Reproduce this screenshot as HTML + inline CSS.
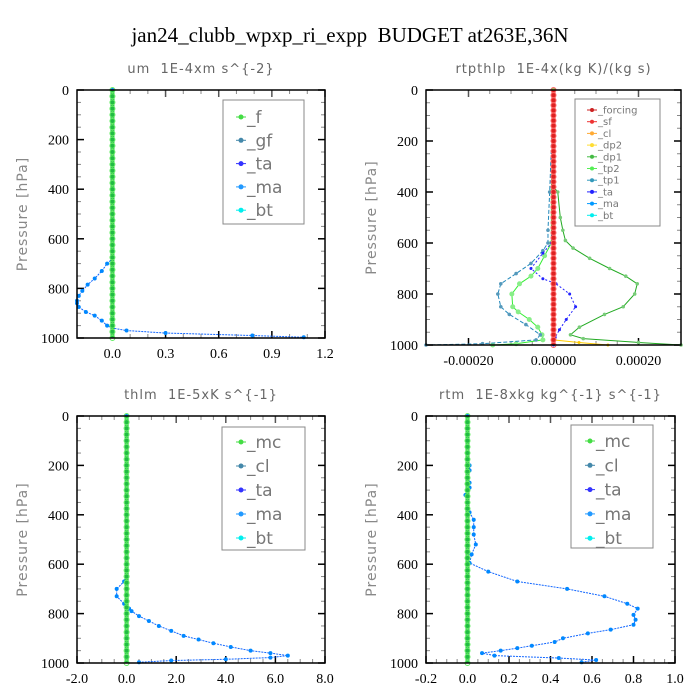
<!DOCTYPE html>
<html><head><meta charset="utf-8"><style>
body{margin:0;background:#fff;width:700px;height:700px;overflow:hidden}
svg{display:block}
text{white-space:pre}
.tk{font-family:"Liberation Serif",serif;font-size:14px;fill:#000}
.pt{font-family:"DejaVu Sans","Liberation Sans",sans-serif;font-size:13px;fill:#666;letter-spacing:1px}
.yl{font-family:"DejaVu Sans","Liberation Sans",sans-serif;font-size:14px;fill:#888;letter-spacing:1px}
.lg{font-family:"DejaVu Sans","Liberation Sans",sans-serif;fill:#777}
</style></head><body>
<svg id="chart" width="700" height="700" xmlns="http://www.w3.org/2000/svg">
<text x="350" y="42" text-anchor="middle" font-family="Liberation Serif,serif" font-size="21">jan24_clubb_wpxp_ri_expp  BUDGET at263E,36N</text>
</svg>
<script>
// ---- data ----
const presTicks=[0,200,400,600,800,1000];
const um_xticks=[0.0,0.3,0.6,0.9,1.2];
const um_xlabels=["0.0","0.3","0.6","0.9","1.2"];
const um_p=[0,40,80,120,160,200,240,280,320,360,400,440,480,520,560,600,640,680,700,730,760,785,810,830,850,860,875,895,910,930,950,960,970,980,990,997];
const um_ta=[0,0,0,0,0,0,0,0,0,0,0,0,0,0,0,0,0,0,-0.03,-0.06,-0.1,-0.14,-0.17,-0.19,-0.2,-0.2,-0.19,-0.15,-0.1,-0.06,-0.03,0.0,0.08,0.3,0.79,1.08];

const rt_xticks=[-0.0002,0,0.0002];
const rt_xlabels=["-0.00020","0.00000","0.00020"];
const rt_p_dp1=[0,380,400,500,550,590,620,660,700,730,760,800,850,880,930,960,975,990,1000];
const rt_dp1=[0,0,1,1.6,2.2,2.8,4.6,8.5,13.2,17,19.7,19.1,16.4,12,6.1,4.0,7,20,30];
const rt_p_tp2=[0,400,600,650,700,730,760,800,850,870,900,930,960,980,995,1000];
const rt_tp2=[0,-0.5,-0.5,-2.1,-3.7,-5.3,-8,-9.8,-9.6,-8.3,-5.7,-3.7,-2.7,-2.5,-8.8,-14.3];
const rt_p_tp1=[0,400,550,600,630,680,720,760,800,850,880,920,960,980,995,1000];
const rt_tp1=[0,-0.9,-1.3,-1.3,-2.5,-5.3,-8.8,-12.4,-13.1,-12.4,-10.4,-6.5,-3.1,-4.1,-16.7,-30];
const rt_p_ta=[0,400,600,640,700,740,760,800,850,900,940,970,1000];
const rt_ta=[0,0,-0.5,-2.5,-5.3,-2.5,0.6,3.8,5.2,3,1.4,0.4,0];
const rt_p_dp2=[0,980,990,1000];
const rt_dp2=[0,0,6,12.8];

const th_xticks=[-2,0,2,4,6,8];
const th_xlabels=["-2.0","0.0","2.0","4.0","6.0","8.0"];
const th_p=[0,100,200,300,400,500,600,640,670,700,730,760,780,790,810,830,850,870,890,905,920,935,950,960,970,978,985,990,997];
const th_ta=[0,0,0,0,0,0,0,0,-0.1,-0.4,-0.4,-0.1,0.1,0.2,0.5,0.9,1.3,1.8,2.3,2.9,3.5,4.2,5.0,5.8,6.5,5.8,4.0,1.8,0.5];

const r_xticks=[-0.2,0,0.2,0.4,0.6,0.8,1.0];
const r_xlabels=["-0.2","0.0","0.2","0.4","0.6","0.8","1.0"];
const r_p=[0,100,180,200,220,250,270,290,320,350,390,420,450,480,520,560,595,630,670,700,730,760,780,805,825,845,865,880,900,915,930,940,950,960,970,980,988,997];
const r_ta=[0,0,0,0.01,0.01,0,0.01,0.01,-0.01,0,0.01,0.03,0.03,0.03,0.04,0.02,0.01,0.1,0.24,0.48,0.66,0.77,0.82,0.8,0.81,0.8,0.69,0.58,0.46,0.42,0.31,0.24,0.16,0.07,0.13,0.44,0.62,0.55];

// ---- drawing ----
const svg=document.getElementById('chart');
const NS='http://www.w3.org/2000/svg';
function el(t,a,parent){const e=document.createElementNS(NS,t);for(const k in a)e.setAttribute(k,a[k]);(parent||svg).appendChild(e);return e;}
function panel(cfg){
  const g=el('g',{});
  
  
  const X=v=>cfg.L+(v-cfg.xmin)/(cfg.xmax-cfg.xmin)*(cfg.R-cfg.L);
  const Y=p=>cfg.T+p/1000*(cfg.B-cfg.T);
  const t=el('text',{x:(cfg.L+cfg.R)/2,y:cfg.T-17,'text-anchor':'middle',class:'pt'},g);t.textContent=cfg.title;
  
  
  const yl=el('text',{x:0,y:0,'text-anchor':'middle',class:'yl',transform:`translate(${cfg.L-50},${(cfg.T+cfg.B)/2}) rotate(-90)`},g);yl.textContent='Pressure [hPa]';
  
  
  for(let p=0;p<=1000;p+=50){const major=p%200===0;const l=major?7:4;
    el('line',{x1:cfg.L,x2:cfg.L+l,y1:Y(p),y2:Y(p),stroke:major?'#000':'#888','stroke-width':major?1.5:1},g);
    el('line',{x1:cfg.R,x2:cfg.R-l,y1:Y(p),y2:Y(p),stroke:major?'#000':'#888','stroke-width':major?1.5:1},g);}
  presTicks.forEach(p=>{const tx=el('text',{x:cfg.L-8,y:Y(p)+5,'text-anchor':'end',class:'tk'},g);tx.textContent=p;
    
    });
  cfg.xticks.forEach((v,i)=>{
    el('line',{x1:X(v),x2:X(v),y1:cfg.B,y2:cfg.B-7,stroke:'#000','stroke-width':1.5},g);
    el('line',{x1:X(v),x2:X(v),y1:cfg.T,y2:cfg.T+7,stroke:'#555','stroke-width':1.5},g);
    const tx=el('text',{x:X(v),y:cfg.B+20,'text-anchor':'middle',class:'tk'},g);tx.textContent=cfg.xlabels[i];
    
    
    if(i<cfg.xticks.length-1){for(let k=1;k<cfg.minor;k++){const mv=v+(cfg.xticks[i+1]-v)*k/cfg.minor;
      el('line',{x1:X(mv),x2:X(mv),y1:cfg.B,y2:cfg.B-4,stroke:'#888'},g);el('line',{x1:X(mv),x2:X(mv),y1:cfg.T,y2:cfg.T+4,stroke:'#888'},g);}}
  });
  cfg.series.forEach(s=>{
    const pts=s.p.map((p,i)=>X(s.v[i]*(s.scale||1))+','+Y(p)).join(' ');
    const pl=el('polyline',{points:pts,fill:'none',stroke:s.c,'stroke-width':s.w||1,'stroke-dasharray':s.dash||''},g);
    
    
    s.p.forEach((p,i)=>{el('circle',{cx:X(s.v[i]*(s.scale||1)),cy:Y(p),r:s.r||2,fill:s.mc||s.c},g);});
  });
  if(cfg.zero){
    const ln=el('line',{x1:X(0),x2:X(0),y1:cfg.T,y2:cfg.B,stroke:cfg.zero,'stroke-width':4},g);
    
    
    for(let p=0;p<=1000;p+=(cfg.zstep||25)) el('circle',{cx:X(0),cy:Y(p),r:2.5,fill:'none',stroke:cfg.zmark||'#4c4','stroke-width':1},g);
  }
  el('rect',{x:cfg.L,y:cfg.T,width:cfg.R-cfg.L,height:cfg.B-cfg.T,fill:'none',stroke:'#000','stroke-width':1.5},g);
  const lg=cfg.legend;
  const lb=el('g',{},g);
  
  
  el('rect',{x:lg.x,y:lg.y,width:lg.w,height:lg.h,fill:'#fff',stroke:'#888','stroke-width':1},lb);
  lg.items.forEach((it,i)=>{
    const yy=lg.y0+i*lg.dy;
    const e=el('g',{},lb);
    
    
    el('line',{x1:lg.sx-5,x2:lg.sx+5,y1:yy,y2:yy,stroke:it[1],'stroke-width':1},e);
    el('circle',{cx:lg.sx,cy:yy,r:lg.fs>12?2.5:2,fill:it[1]},e);
    const tx=el('text',{x:lg.sx+6,y:yy+lg.fs*0.35,class:'lg','font-size':lg.fs},e);tx.textContent=it[0];
  });
}
panel({name:'panel-um',title:'um  1E-4xm s^{-2}',L:77,R:325,T:90,B:338,xmin:-0.2,xmax:1.2,xticks:um_xticks,xlabels:um_xlabels,minor:3,
  series:[{p:um_p,v:um_ta,c:'#1166ff',dash:'2,1',mc:'#08f'}],zero:'#22bb44',zmark:'#6e6',
  legend:{x:223,y:100,w:81,h:124,y0:117,dy:23.3,sx:241,fs:17,items:[['_f','#4d4'],['_gf','#48a'],['_ta','#33f'],['_ma','#29f'],['_bt','#0ee']]}});
panel({name:'panel-rtpthlp',title:'rtpthlp  1E-4x(kg K)/(kg s)',L:426,R:681,T:90,B:345,xmin:-0.0003,xmax:0.0003,xticks:rt_xticks,xlabels:rt_xlabels,minor:4,
  series:[{p:rt_p_dp1,v:rt_dp1,scale:1e-5,c:'#22aa22',mc:'#7c7',r:1.8},
          {p:rt_p_tp2,v:rt_tp2,scale:1e-5,c:'#33ee33',mc:'#8e8',r:2.5},
          {p:rt_p_tp1,v:rt_tp1,scale:1e-5,c:'#2288bb',dash:'4,2',mc:'#59b',r:1.8},
          {p:rt_p_ta,v:rt_ta,scale:1e-5,c:'#2222ff',dash:'2,2',r:1.5},
          {p:rt_p_dp2,v:rt_dp2,scale:1e-5,c:'#ffcc00',r:1.5}],
  zero:'#dd2222',zmark:'#f66',zstep:20,
  legend:{x:575,y:99,w:85,h:127,y0:110,dy:11.7,sx:592,fs:10,items:[['_forcing','#c22'],['_sf','#e33'],['_cl','#fa3'],['_dp2','#fd3'],['_dp1','#4b4'],['_tp2','#5e5'],['_tp1','#39b'],['_ta','#22f'],['_ma','#09f'],['_bt','#0ee']]}});
panel({name:'panel-thlm',title:'thlm  1E-5xK s^{-1}',L:77,R:325,T:416,B:663,xmin:-2,xmax:8,xticks:th_xticks,xlabels:th_xlabels,minor:4,
  series:[{p:th_p,v:th_ta,c:'#1166ff',dash:'2,1',mc:'#08f'}],zero:'#22bb44',zmark:'#6e6',
  legend:{x:222,y:427,w:83,h:123,y0:442,dy:24,sx:241,fs:17,items:[['_mc','#4d4'],['_cl','#48a'],['_ta','#33f'],['_ma','#29f'],['_bt','#0ee']]}});
panel({name:'panel-rtm',title:'rtm  1E-8xkg kg^{-1} s^{-1}',L:426,R:675,T:416,B:663,xmin:-0.2,xmax:1.0,xticks:r_xticks,xlabels:r_xlabels,minor:4,
  series:[{p:r_p,v:r_ta,c:'#1166ff',dash:'2,1',mc:'#08f'}],zero:'#22bb44',zmark:'#6e6',
  legend:{x:571,y:425,w:82,h:123,y0:441,dy:24.3,sx:590,fs:17,items:[['_mc','#4d4'],['_cl','#48a'],['_ta','#33f'],['_ma','#29f'],['_bt','#0ee']]}});
</script>
</body></html>
